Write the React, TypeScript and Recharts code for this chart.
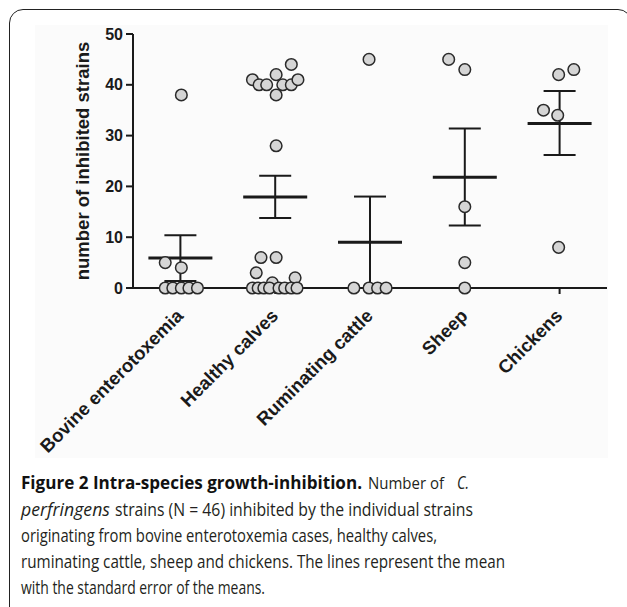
import React from 'react';
import { ScatterChart, Scatter, XAxis, YAxis, ErrorBar } from 'recharts';

// categories along the x axis (centres at 0.5, 1.5, ...)
const categories = ['Bovine enterotoxemia', 'Healthy calves', 'Ruminating cattle', 'Sheep', 'Chickens'];
const categoryTicks = [0.5, 1.5, 2.5, 3.5, 4.5];
const yTicks = [0, 10, 20, 30, 40, 50];

// mean and standard error bounds per group
const means = [5.9, 17.9, 9.0, 21.8, 32.4];
const semLow = [1.4, 13.8, 0, 12.3, 26.2];
const semHigh = [10.4, 22.1, 18.0, 31.4, 38.8];

// individual strains, x is the swarm position inside the category band
const bovine = [
  { x: 0.51, y: 38 }, { x: 0.34, y: 5 }, { x: 0.51, y: 4 },
  { x: 0.34, y: 0 }, { x: 0.42, y: 0 }, { x: 0.51, y: 0 }, { x: 0.59, y: 0 }, { x: 0.68, y: 0 },
];
const healthyCalves = [
  { x: 1.26, y: 41 }, { x: 1.33, y: 40 }, { x: 1.41, y: 40 }, { x: 1.51, y: 42 }, { x: 1.51, y: 38 },
  { x: 1.58, y: 40 }, { x: 1.67, y: 40 }, { x: 1.67, y: 44 }, { x: 1.74, y: 41 },
  { x: 1.51, y: 28 },
  { x: 1.35, y: 6 }, { x: 1.51, y: 6 }, { x: 1.3, y: 3 }, { x: 1.47, y: 1 }, { x: 1.71, y: 2 },
  { x: 1.26, y: 0 }, { x: 1.32, y: 0 }, { x: 1.38, y: 0 }, { x: 1.44, y: 0 },
  { x: 1.54, y: 0 }, { x: 1.6, y: 0 }, { x: 1.67, y: 0 }, { x: 1.73, y: 0 },
];
const ruminatingCattle = [
  { x: 2.49, y: 45 }, { x: 2.33, y: 0 }, { x: 2.49, y: 0 }, { x: 2.58, y: 0 }, { x: 2.67, y: 0 },
];
const sheep = [
  { x: 3.33, y: 45 }, { x: 3.5, y: 43 }, { x: 3.5, y: 16 }, { x: 3.5, y: 5 }, { x: 3.5, y: 0 },
];
const chickens = [
  { x: 4.49, y: 42 }, { x: 4.65, y: 43 }, { x: 4.33, y: 35 }, { x: 4.48, y: 34 }, { x: 4.49, y: 8 },
];

const summary = means.map((m, i) => ({
  x: categoryTicks[i],
  y: m,
  err: [m - semLow[i], semHigh[i] - m],
}));
const points = [...bovine, ...healthyCalves, ...ruminatingCattle, ...sheep, ...chickens];

const INK = '#1a1a1a';
const AXIS_FONT = '"Liberation Sans", Arial, sans-serif';
const CAPTION_FONT = '"Open Sans", "Noto Sans", sans-serif';

const MeanLine = (props: any) => (
  <line x1={props.cx - 32} x2={props.cx + 32} y1={props.cy} y2={props.cy} stroke={INK} strokeWidth={3} />
);

const Dot = (props: any) => (
  <circle cx={props.cx} cy={props.cy} r={5.8} fill="#d5d5d5" stroke="#2a2a2a" strokeWidth={1.5} />
);

const CategoryTick = (props: any) => {
  const { x, payload } = props;
  const px = x + 4;
  const py = 317;
  const idx = categoryTicks.indexOf(payload.value);
  return (
    <text
      x={px}
      y={py}
      transform={`rotate(-45 ${px} ${py})`}
      textAnchor="end"
      fontFamily={AXIS_FONT}
      fontWeight="bold"
      fontSize={18.5}
      fill={INK}
    >
      {categories[idx]}
    </text>
  );
};

const YTitle = () => (
  <text
    x={89}
    y={161}
    transform="rotate(-90 89 161)"
    textAnchor="middle"
    fontFamily={AXIS_FONT}
    fontWeight="bold"
    fontSize={18.5}
    fill={INK}
  >
    number of inhibited strains
  </text>
);

// caption lines, fitted to the widths they take in the printed figure
const Caption = () => {
  const common = { fontFamily: CAPTION_FONT, fontSize: 17.5, fill: '#231f20', lengthAdjust: 'spacingAndGlyphs' as const };
  return (
    <svg width={627} height={150} style={{ position: 'absolute', left: 0, top: 457 }}>
      <text x={21} y={32} textLength={341} {...common} fontWeight="bold" fill="#111">
        Figure 2 Intra-species growth-inhibition.
      </text>
      <text x={368} y={32} textLength={76} {...common} fontSize={16}>
        Number of
      </text>
      <text x={457} y={32} textLength={12} {...common} fontStyle="italic">
        C.
      </text>
      <text x={21} y={59} textLength={89} {...common} fontStyle="italic">
        perfringens
      </text>
      <text x={115} y={59} textLength={358} {...common}>
        strains (N = 46) inhibited by the individual strains
      </text>
      <text x={21} y={85} textLength={416} {...common}>
        originating from bovine enterotoxemia cases, healthy calves,
      </text>
      <text x={21} y={111} textLength={484} {...common}>
        ruminating cattle, sheep and chickens. The lines represent the mean
      </text>
      <text x={21} y={137} textLength={244} {...common}>
        with the standard error of the means.
      </text>
    </svg>
  );
};

const App: React.FC = () => {
  return (
    <div style={{ position: 'fixed', left: 0, top: 0, width: 627, height: 607, overflow: 'hidden', background: '#fff' }}>
      {/* figure frame */}
      <div
        style={{
          position: 'absolute', left: 9, top: 9, width: 623, height: 700,
          border: '1.5px solid #222', borderTopLeftRadius: 14, borderTopRightRadius: 14,
          boxSizing: 'border-box',
        }}
      />
      <div style={{ position: 'absolute', left: 35, top: 25, width: 573, height: 433, background: '#fbfbfb' }} />

      <div style={{ position: 'absolute', left: 0, top: 0 }}>
        <ScatterChart width={627} height={460} margin={{ top: 34, right: 20, bottom: 22, left: 70 }}>
          <XAxis
            type="number"
            dataKey="x"
            domain={[0, 5]}
            ticks={categoryTicks}
            interval={0}
            height={150}
            tick={<CategoryTick />}
            tickSize={6}
            axisLine={{ stroke: INK, strokeWidth: 2 }}
            tickLine={{ stroke: INK, strokeWidth: 2 }}
          />
          <YAxis
            type="number"
            dataKey="y"
            domain={[0, 50]}
            ticks={yTicks}
            width={63}
            tickSize={7}
            tickMargin={3}
            axisLine={{ stroke: INK, strokeWidth: 2 }}
            tickLine={{ stroke: INK, strokeWidth: 2 }}
            tick={{ fill: INK, fontFamily: AXIS_FONT, fontWeight: 'bold', fontSize: 16 }}
          />
          <Scatter data={summary} shape={<MeanLine />} isAnimationActive={false}>
            <ErrorBar dataKey="err" direction="y" width={16} stroke={INK} strokeWidth={2} isAnimationActive={false} />
          </Scatter>
          <Scatter data={points} shape={<Dot />} isAnimationActive={false} />
          <YTitle />
        </ScatterChart>
      </div>

      <Caption />
    </div>
  );
};

export default App;
